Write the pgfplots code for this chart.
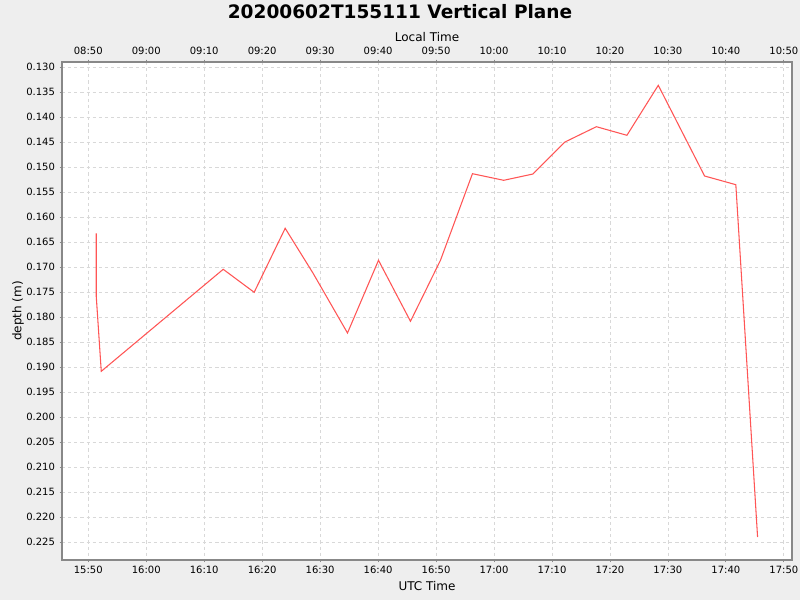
\documentclass[border=0pt]{standalone}
\usepackage{fontspec}
\setmainfont{DejaVu Sans}
\usepackage{pgfplots}
\pgfplotsset{compat=1.18}
\definecolor{bgc}{HTML}{EEEEEE}
\definecolor{axc}{HTML}{888888}
\definecolor{gridc}{HTML}{D8D8D8}
\definecolor{linec}{HTML}{FF5555}
\begin{document}
\begin{tikzpicture}
\fill[bgc] (-46.5pt,-30pt) rectangle (553.5pt,420pt);
\begin{axis}[
  at={(0pt,0pt)}, anchor=south west,
  scale only axis, width=547.5pt, height=373.5pt,
  axis background/.style={fill=white},
  xmin=-4.534, xmax=121.41,
  ymin=0.12894, ymax=0.22854, y dir=reverse,
  xtick={0,10,...,120},
  xticklabels={15:50,16:00,16:10,16:20,16:30,16:40,16:50,17:00,17:10,17:20,17:30,17:40,17:50},
  ytick={0.130,0.135,0.140,0.145,0.150,0.155,0.160,0.165,0.170,0.175,0.180,0.185,0.190,0.195,0.200,0.205,0.210,0.215,0.220,0.225},
  yticklabel style={/pgf/number format/.cd,fixed,fixed zerofill,precision=3,assume math mode=true},
  ytick pos=left,
  tick align=outside, major tick length=1.8pt,
  tick style={axc, line width=0.6pt},
  axis line style={axc, line width=0.8pt},
  ticklabel style={font=\fontsize{7.5}{9}\selectfont},
  xticklabel style={yshift=0.5pt},
  grid=major,
  major grid style={gridc, dash pattern=on 2.4pt off 2.2pt, line width=0.6pt},
]
\addplot[linec, line width=0.8pt, no marks] coordinates {
(1.38,0.16320)
(1.38,0.17588)
(2.24,0.19080)
(23.28,0.17040)
(28.62,0.17500)
(33.97,0.16220)
(38.79,0.17120)
(44.72,0.18314)
(50.07,0.16860)
(55.59,0.18080)
(60.76,0.16860)
(66.28,0.15128)
(71.67,0.15260)
(76.72,0.15134)
(82.24,0.14494)
(87.66,0.14188)
(92.93,0.14360)
(98.34,0.13360)
(106.33,0.15174)
(111.72,0.15348)
(115.47,0.22394)
};
\end{axis}
\begin{axis}[
  at={(0pt,0pt)}, anchor=south west,
  scale only axis, width=547.5pt, height=373.5pt,
  xmin=-4.534, xmax=121.41,
  ymin=0.12894, ymax=0.22854,
  hide y axis,
  axis x line*=top,
  x axis line style={draw=none},
  xtick={0,10,...,120},
  xticklabels={08:50,09:00,09:10,09:20,09:30,09:40,09:50,10:00,10:10,10:20,10:30,10:40,10:50},
  tick align=outside, major tick length=1.8pt,
  tick style={axc, line width=0.6pt},
  ticklabel style={font=\fontsize{7.5}{9}\selectfont},
]
\end{axis}
\node[font=\bfseries\fontsize{13.9}{16}\selectfont] at (253.5pt,411pt) {20200602T155111 Vertical Plane};
\node[font=\fontsize{9}{11}\selectfont] at (273.75pt,392.5pt) {Local Time};
\node[font=\fontsize{9}{11}\selectfont] at (273.75pt,-19.5pt) {UTC Time};
\node[font=\fontsize{9}{11}\selectfont, rotate=90] at (-33pt,186.75pt) {depth (m)};
\pgfresetboundingbox
\useasboundingbox (-46.5pt,-30pt) rectangle (553.5pt,420pt);
\end{tikzpicture}
\end{document}
